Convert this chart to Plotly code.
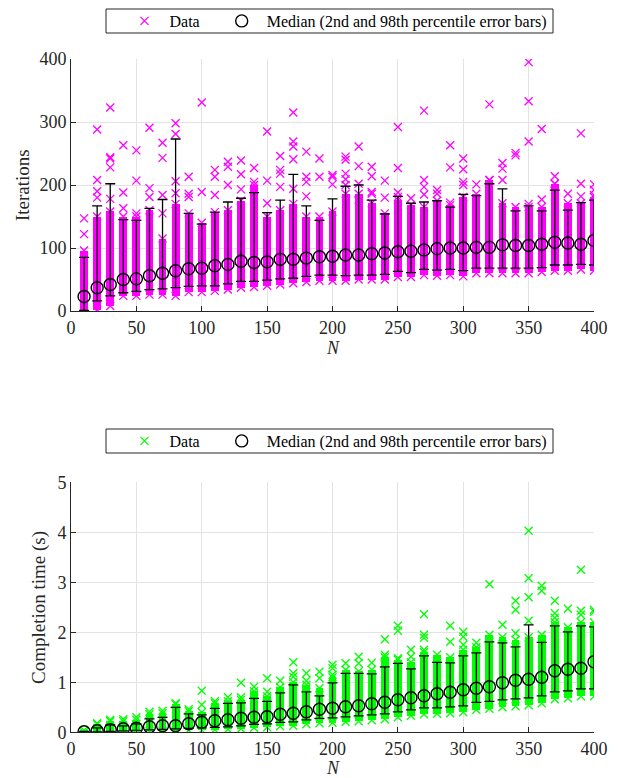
import plotly.graph_objects as go

# ---------------- data ----------------
N = [10, 20, 30, 40, 50, 60, 70, 80, 90, 100, 110, 120, 130, 140, 150, 160, 170, 180, 190, 200,
     210, 220, 230, 240, 250, 260, 270, 280, 290, 300, 310, 320, 330, 340, 350, 360, 370, 380, 390, 400]

# Iterations
med_it = [23, 37, 42, 50, 51, 56, 60, 64, 67, 68, 72, 74, 79, 77, 78, 82, 82, 84, 86, 87,
          89, 89, 91, 92, 94, 95, 97, 99, 100, 100, 101, 101, 105, 104, 104, 106, 109, 108, 106, 112]
p2_it = [1, 16, 24, 29, 31, 34, 35, 37, 39, 40, 40, 43, 47, 47, 49, 51, 52, 55, 57, 57,
         56, 57, 57, 58, 63, 61, 66, 65, 66, 64, 68, 68, 68, 68, 68, 69, 73, 73, 74, 73]
p98_it = [85, 167, 202, 145, 144, 163, 177, 273, 155, 138, 157, 173, 179, 188, 156, 176, 217, 167, 144, 178,
          198, 200, 176, 154, 182, 171, 173, 175, 165, 185, 183, 202, 194, 159, 167, 159, 192, 160, 172, 176]
band_lo_it = [0, 2, 8, 24, 24, 26, 26, 24, 30, 30, 32, 34, 37, 38, 40, 42, 44, 46, 48, 48,
              48, 50, 50, 50, 54, 54, 57, 56, 57, 55, 60, 60, 60, 60, 60, 62, 64, 64, 66, 64]
band_hi_it = [96, 150, 158, 150, 150, 160, 115, 170, 155, 140, 157, 160, 175, 200, 150, 160, 170, 150, 150, 158,
              186, 186, 171, 155, 176, 168, 165, 175, 168, 181, 186, 208, 171, 165, 165, 165, 202, 171, 171, 181]
out_n_it = [10, 10, 20, 20, 20, 20, 30, 30, 30, 30, 30, 40, 40, 40, 50, 50, 50, 60, 60, 60,
            70, 70, 70, 70, 80, 80, 80, 80, 90, 90, 90, 100, 100, 110, 110, 110, 120, 120, 120,
            130, 130, 130, 140, 140, 150, 150, 150, 160, 160, 160, 160, 170, 170, 170, 170, 170,
            180, 180, 180, 180, 190, 190, 200, 200, 200, 210, 210, 210, 210, 210, 220, 220, 220, 220,
            230, 230, 230, 230, 240, 240, 250, 250, 250, 250, 260, 270, 270, 270, 270, 280, 280,
            290, 290, 290, 300, 300, 300, 300, 310, 320, 320, 330, 330, 330, 340, 340,
            350, 350, 350, 350, 360, 360, 370, 370, 380, 390, 390, 390, 400, 400, 400]
out_it = [147, 122, 288, 208, 190, 180, 323, 244, 242, 228, 178, 263, 188, 163, 255, 207, 155, 291, 195, 181,
          267, 243, 184, 155, 298, 281, 206, 187, 213, 186, 181, 331, 189, 224, 213, 184, 237, 229, 200,
          239, 217, 193, 227, 205, 285, 207, 171, 246, 224, 218, 197, 315, 269, 261, 241, 194,
          253, 213, 205, 182, 242, 213, 216, 213, 201, 245, 240, 218, 209, 200, 261, 230, 202, 176,
          229, 214, 189, 186, 207, 180, 292, 227, 188, 181, 179, 318, 208, 197, 185, 192, 186,
          263, 228, 172, 242, 225, 205, 200, 201, 328, 208, 235, 226, 208, 251, 247,
          395, 333, 269, 170, 289, 177, 214, 202, 186, 282, 202, 182, 201, 192, 184]

# Completion time (s)
med_t = [0.01, 0.03, 0.05, 0.07, 0.08, 0.11, 0.13, 0.13, 0.17, 0.20, 0.23, 0.25, 0.28, 0.30, 0.31, 0.36,
         0.38, 0.41, 0.46, 0.48, 0.51, 0.53, 0.57, 0.60, 0.65, 0.69, 0.73, 0.77, 0.80, 0.85, 0.88, 0.91,
         0.99, 1.04, 1.06, 1.10, 1.23, 1.26, 1.28, 1.41]
p2_t = [0.0, 0.01, 0.02, 0.03, 0.04, 0.05, 0.06, 0.07, 0.08, 0.09, 0.10, 0.11, 0.13, 0.16, 0.17, 0.20,
        0.21, 0.25, 0.28, 0.29, 0.31, 0.33, 0.35, 0.37, 0.41, 0.45, 0.49, 0.49, 0.51, 0.53, 0.60, 0.62,
        0.65, 0.67, 0.69, 0.73, 0.81, 0.83, 0.87, 0.87]
p98_t = [0.02, 0.09, 0.15, 0.13, 0.17, 0.27, 0.30, 0.50, 0.37, 0.35, 0.48, 0.58, 0.59, 0.68, 0.62, 0.79,
         0.95, 0.81, 0.73, 0.99, 1.18, 1.18, 1.17, 1.31, 1.38, 1.27, 1.53, 1.40, 1.39, 1.53, 1.59, 1.81,
         1.79, 1.71, 2.15, 1.80, 2.13, 2.01, 2.13, 2.11]
band_lo_t = [0.0, 0.0, 0.0, 0.01, 0.01, 0.02, 0.02, 0.03, 0.04, 0.04, 0.05, 0.06, 0.07, 0.09, 0.10, 0.12,
             0.13, 0.16, 0.18, 0.19, 0.21, 0.22, 0.24, 0.26, 0.30, 0.33, 0.36, 0.37, 0.38, 0.40, 0.45, 0.47,
             0.50, 0.52, 0.54, 0.58, 0.66, 0.68, 0.72, 0.72]
band_hi_t = [0.04, 0.16, 0.22, 0.22, 0.25, 0.36, 0.38, 0.56, 0.42, 0.40, 0.58, 0.62, 0.65, 0.82, 0.72, 0.90,
             1.00, 0.95, 0.88, 1.10, 1.25, 1.22, 1.25, 1.50, 1.45, 1.40, 1.60, 1.55, 1.50, 1.65, 1.70, 1.95,
             1.90, 1.85, 1.90, 1.95, 2.20, 2.10, 2.20, 2.20]
out_n_t = [20, 30, 40, 50, 60, 70, 80, 90, 100, 100, 110, 120, 130, 130, 140, 150, 150, 160,
           170, 170, 170, 180, 180, 190, 190, 200, 200, 200, 210, 220, 220, 230, 240, 240,
           250, 250, 250, 260, 260, 270, 270, 270, 270, 290, 290, 300, 300, 300, 310, 320, 330,
           340, 340, 340, 350, 350, 350, 350, 360, 360, 370, 370, 370, 380, 390, 390, 390, 400, 400]
out_t = [0.18, 0.25, 0.26, 0.30, 0.41, 0.43, 0.58, 0.46, 0.83, 0.55, 0.62, 0.70, 0.99, 0.70, 0.91, 1.08, 0.81, 1.03,
         1.40, 1.18, 1.11, 1.18, 1.03, 1.21, 1.08, 1.35, 1.28, 1.15, 1.38, 1.51, 1.38, 1.39, 1.86, 1.55,
         2.13, 2.03, 1.48, 1.65, 1.51, 2.36, 1.95, 1.89, 1.65, 2.13, 1.81, 2.01, 1.91, 1.75, 1.79, 2.96, 2.15,
         2.63, 2.45, 1.98, 4.03, 3.08, 2.70, 2.23, 2.93, 2.83, 2.63, 2.38, 2.29, 2.47, 3.25, 2.43, 2.35, 2.45, 2.41]

x_ticks = [0, 50, 100, 150, 200, 250, 300, 350, 400]
it_ticks = [0, 100, 200, 300, 400]
t_ticks = [0, 1, 2, 3, 4, 5]

# ---------------- style ----------------
MAGENTA = "#ff00ff"
GREEN = "#00ff00"
AX = "#262626"
GRID = "#e3e3e3"
FONT = "Liberation Serif"
NBSP = "\u00a0"

fig = go.Figure()


def add_panel(xa, ya, color, lo, hi, on, ov, med, p2, p98, legend):
    fig.add_trace(go.Bar(
        x=N, y=[h - l for h, l in zip(hi, lo)], base=lo, width=6,
        marker=dict(color=color, line=dict(width=0)),
        xaxis=xa, yaxis=ya, showlegend=False, hoverinfo="skip"))
    fig.add_trace(go.Scatter(
        x=N + N + on, y=lo + hi + ov, mode="markers", name="Data" + NBSP * 3,
        marker=dict(symbol="x-thin", size=8, color=color, line=dict(width=1.3, color=color)),
        xaxis=xa, yaxis=ya, legend=legend))
    fig.add_trace(go.Scatter(
        x=N, y=med, mode="markers", name="Median (2nd and 98th percentile error bars)",
        marker=dict(symbol="circle-open", size=12, color="black", line=dict(width=1.4, color="black")),
        error_y=dict(type="data", symmetric=False,
                     array=[b - m for b, m in zip(p98, med)],
                     arrayminus=[m - a for m, a in zip(med, p2)],
                     color="black", thickness=1.3, width=5),
        xaxis=xa, yaxis=ya, legend=legend))


add_panel("x", "y", MAGENTA, band_lo_it, band_hi_it, out_n_it, out_it, med_it, p2_it, p98_it, "legend")
add_panel("x2", "y2", GREEN, band_lo_t, band_hi_t, out_n_t, out_t, med_t, p2_t, p98_t, "legend2")

# page offset (the browser puts the figure 8px in from the top-left corner)
OFF = 8
W, H = 624 - OFF, 778 - OFF


def fx(px):
    return (px - OFF) / W


def fy(py):
    return 1 - (py - OFF) / H


xdom = [fx(71), fx(594)]
ydom_top = [fy(311), fy(59)]
ydom_bot = [fy(732.3), fy(482.3)]

axis_common = dict(
    showline=True, linecolor=AX, linewidth=1, mirror=False, automargin=False,
    showgrid=True, gridcolor=GRID, gridwidth=1, zeroline=False,
    ticks="inside", ticklen=5, tickcolor=AX, tickwidth=1,
    tickfont=dict(family=FONT, size=18, color=AX),
)

title_font = dict(family=FONT, size=19, color=AX)
xmid = fx((71 + 594) / 2)

legend_common = dict(orientation="h", xanchor="center", yanchor="middle",
                     borderwidth=0, bgcolor="rgba(0,0,0,0)", itemwidth=40,
                     font=dict(family=FONT, size=16, color="black"))

fig.update_layout(
    width=W, height=H,
    margin=dict(l=0, r=0, t=0, b=0, autoexpand=False),
    paper_bgcolor="white", plot_bgcolor="white",
    font=dict(family=FONT, color=AX),
    barmode="overlay", bargap=0,
    xaxis=dict(domain=xdom, anchor="y", range=[0, 400], tickvals=x_ticks, **axis_common),
    yaxis=dict(domain=ydom_top, anchor="x", range=[0, 400], tickvals=it_ticks, **axis_common),
    xaxis2=dict(domain=xdom, anchor="y2", range=[0, 400], tickvals=x_ticks, **axis_common),
    yaxis2=dict(domain=ydom_bot, anchor="x2", range=[0, 5], tickvals=t_ticks, **axis_common),
    legend=dict(x=fx(336), y=fy(21), **legend_common),
    legend2=dict(x=fx(336), y=fy(441), **legend_common),
    shapes=[
        dict(type="rect", xref="paper", yref="paper", x0=fx(106), x1=fx(553), y0=fy(33), y1=fy(9),
             line=dict(color=AX, width=1), fillcolor="rgba(0,0,0,0)", layer="below"),
        dict(type="rect", xref="paper", yref="paper", x0=fx(106), x1=fx(553), y0=fy(453), y1=fy(429),
             line=dict(color=AX, width=1), fillcolor="rgba(0,0,0,0)", layer="below"),
    ],
    annotations=[
        dict(text="Iterations", xref="paper", yref="paper", x=fx(22), y=fy(185),
             textangle=-90, showarrow=False, font=title_font, xanchor="center", yanchor="middle"),
        dict(text="Completion time (s)", xref="paper", yref="paper", x=fx(39), y=fy(608),
             textangle=-90, showarrow=False, font=title_font, xanchor="center", yanchor="middle"),
        dict(text="<i>N</i>", xref="paper", yref="paper", x=xmid, y=fy(348),
             showarrow=False, font=dict(family=FONT, size=18, color=AX), xanchor="center", yanchor="middle"),
        dict(text="<i>N</i>", xref="paper", yref="paper", x=xmid, y=fy(768),
             showarrow=False, font=dict(family=FONT, size=18, color=AX), xanchor="center", yanchor="middle"),
    ],
)

fig.write_html("out.html")
